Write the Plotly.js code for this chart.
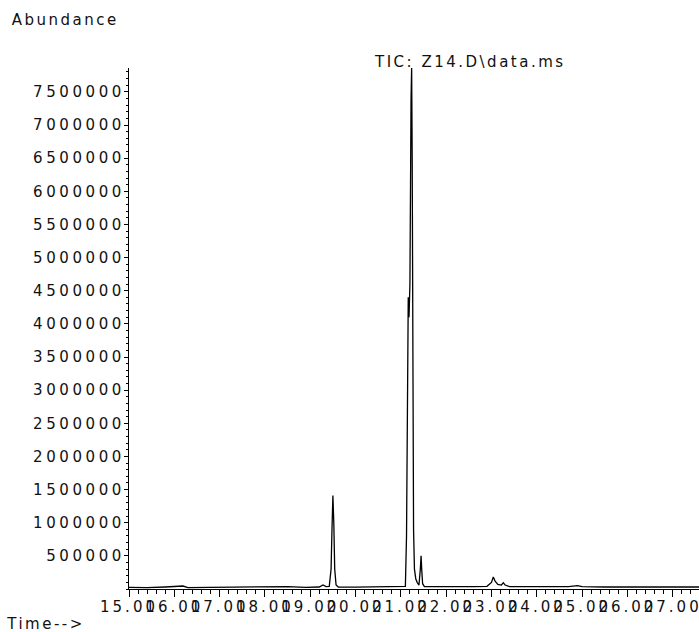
<!DOCTYPE html>
<html>
<head>
<meta charset="utf-8">
<script src="https://cdn.plot.ly/plotly-3.0.1.min.js"></script>
<style>
  html, body { margin: 0; padding: 0; background: #fff; }
  #plot { width: 699px; height: 632px; }
  #plot .xtick text { letter-spacing: 3px; }
  #plot .ytick text { letter-spacing: 3.6px; }
  #plot .annotation-text, #plot .gtitle { letter-spacing: 2.5px; }
</style>
</head>
<body>
<div id="plot"></div>
<script>
// Retention time (min)
var times = [
  15.00, 15.40, 15.80, 16.19, 16.30, 17.00, 17.60, 18.00, 18.50, 18.90,
  19.20, 19.28, 19.35, 19.42, 19.46, 19.48, 19.50, 19.52, 19.54, 19.57,
  19.62, 20.00, 20.50, 21.00, 21.10, 21.125, 21.145, 21.163, 21.18, 21.20,
  21.225, 21.238, 21.25, 21.265, 21.28, 21.30, 21.33, 21.36, 21.40, 21.43,
  21.446, 21.46, 21.48, 21.52, 22.00, 22.60, 22.90, 23.00, 23.04, 23.08,
  23.14, 23.22, 23.26, 23.30, 23.40, 24.00, 24.70, 24.90, 25.00, 25.50,
  26.00, 27.00, 27.58
];
// Total ion current abundance
var abundance = [
  25000, 20000, 30000, 45000, 22000, 25000, 30000, 25000, 35000, 25000,
  30000, 60000, 35000, 40000, 300000, 900000, 1410000, 1000000, 300000, 60000,
  30000, 28000, 30000, 30000, 40000, 800000, 3500000, 4400000, 4100000, 4600000,
  7400000, 7860000, 6500000, 3000000, 900000, 300000, 150000, 100000, 60000, 300000,
  500000, 300000, 80000, 35000, 30000, 35000, 40000, 100000, 180000, 120000,
  70000, 60000, 95000, 60000, 35000, 30000, 35000, 50000, 35000, 30000,
  28000, 30000, 30000
];
var yTickVals = [500000, 1000000, 1500000, 2000000, 2500000, 3000000, 3500000,
  4000000, 4500000, 5000000, 5500000, 6000000, 6500000, 7000000, 7500000];
var xTickVals = [15, 16, 17, 18, 19, 20, 21, 22, 23, 24, 25, 26, 27];
var xTickText = ["15.00", "16.00", "17.00", "18.00", "19.00", "20.00", "21.00",
  "22.00", "23.00", "24.00", "25.00", "26.00", "27.00"];
var yTickText = yTickVals.map(function (v) { return String(v); });

var font = { family: "DejaVu Sans, Verdana, sans-serif", size: 15, color: "#111" };

var trace = {
  x: times, y: abundance, type: "scatter", mode: "lines",
  line: { color: "#000", width: 1.3 }, hoverinfo: "x+y"
};

var layout = {
  width: 699, height: 632,
  margin: { l: 129, r: 0, t: 68, b: 43, pad: 0 },
  paper_bgcolor: "#fff", plot_bgcolor: "#fff",
  showlegend: false,
  font: font,
  title: {
    text: "TIC: Z14.D\\data.ms", font: font,
    xref: "container", yref: "container",
    x: 375 / 699, xanchor: "left", y: 1 - 62 / 632, yanchor: "middle"
  },
  xaxis: {
    range: [15, 27.58], showgrid: false, zeroline: false,
    showline: true, linecolor: "#000", linewidth: 1,
    tickmode: "array", tickvals: xTickVals, ticktext: xTickText,
    ticks: "outside", ticklen: 7, tickwidth: 1, tickcolor: "#000",
    tickangle: 0, tickfont: font, ticklabelstandoff: -3,
    minor: { dtick: 0.2, ticks: "outside", ticklen: 4, tickwidth: 1, tickcolor: "#000", showgrid: false }
  },
  yaxis: {
    range: [0, 7860000], showgrid: false, zeroline: false,
    showline: true, linecolor: "#000", linewidth: 1,
    tickmode: "array", tickvals: yTickVals, ticktext: yTickText,
    ticks: "outside", ticklen: 4, tickwidth: 1, tickcolor: "#000",
    tickfont: font, ticklabelstandoff: -4,
    minor: { dtick: 100000, ticks: "outside", ticklen: 2, tickwidth: 1, tickcolor: "#000", showgrid: false }
  },
  annotations: [
    { text: "Abundance", xref: "paper", yref: "paper",
      x: (21 - 129) / 570, y: (589 - 20) / 521, xanchor: "left", yanchor: "middle",
      showarrow: false, font: font },
    { text: "Time-->", xref: "paper", yref: "paper",
      x: (13 - 129) / 570, y: (589 - 624) / 521, xanchor: "left", yanchor: "middle",
      showarrow: false, font: font }
  ]
};

Plotly.newPlot("plot", [trace], layout, { staticPlot: true, displayModeBar: false });
</script>
</body>
</html>
